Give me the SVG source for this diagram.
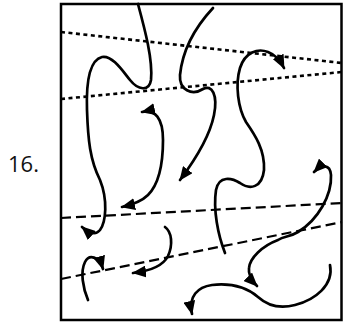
<svg xmlns="http://www.w3.org/2000/svg" width="343" height="324" viewBox="0 0 343 324">
<style>
.frame{fill:none;stroke:#000;stroke-width:2.5}
.dot{fill:none;stroke:#000;stroke-width:2.6;stroke-dasharray:4 3.5}
.dash{fill:none;stroke:#000;stroke-width:2.2;stroke-dasharray:10 5}
.curve{fill:none;stroke:#000;stroke-width:2.7;stroke-linecap:round}
.label{font-family:"Open Sans","Noto Sans",sans-serif;font-size:22px;fill:#111}
</style>
<defs>
<marker id="ah" viewBox="0 0 14 12" refX="13" refY="6" markerWidth="14" markerHeight="12" markerUnits="userSpaceOnUse" orient="auto-start-reverse">
<path d="M0,0 L14,6 L0,12 z" fill="#000"/>
</marker>
</defs>
<rect width="343" height="324" fill="#fff"/>
<g id="label"><text class="label" x="8" y="172">16.</text></g>
<g id="frame"><rect class="frame" x="61" y="4" width="280.5" height="316"/></g>
<g id="lines">
<line class="dot" x1="61" y1="32" x2="342" y2="63"/>
<line class="dot" x1="61" y1="99" x2="342" y2="72"/>
<line class="dash" x1="61" y1="218" x2="342" y2="203"/>
<line class="dash" x1="61" y1="279" x2="342" y2="222"/>
</g>
<g id="connectors">
<path id="curveA" class="curve" marker-end="url(#ah)" d="M138,4 C145,30 153,60 151,80 C149,92 138,90 130,80 C122,70 112,55 102,57 C90,60 86,80 87,110 C88,140 90,160 100,180 C108,200 106,222 100,230 C96,235 90,234 82,227"/>
<path id="curveB" class="curve" marker-end="url(#ah)" d="M213,8 C200,22 183,45 180,75 C179,90 192,96 203,89 C212,84 218,95 214,115 C210,135 195,160 180,180"/>
<path id="curveC" class="curve" marker-start="url(#ah)" marker-end="url(#ah)" d="M142,112 C155,109 163,118 163,140 C163,165 158,185 148,195 C142,201 135,204 122,207"/>
<path id="curveD" class="curve" marker-end="url(#ah)" d="M225,253 C218,235 213,210 216,190 C219,175 232,178 240,183 C250,190 262,188 264,170 C265,150 255,135 246,122 C238,108 235,85 240,68 C245,52 258,48 268,52 C276,55 280,60 284,68"/>
<path id="curveE" class="curve" marker-start="url(#ah)" marker-end="url(#ah)" d="M314,172 C322,164 330,164 331,175 C332,195 318,220 298,232 C290,237 284,236 278,240 C262,246 250,258 249,268 C248,275 251,280 257,286"/>
<path id="curveF" class="curve" marker-end="url(#ah)" d="M330,265 C334,285 315,300 295,305 C280,309 268,306 258,297 C245,286 230,283 212,285 C198,287 188,296 192,314"/>
<path id="curveG" class="curve" marker-end="url(#ah)" d="M88,300 C83,288 80,272 85,262 C89,254 99,256 103,269"/>
<path id="curveH" class="curve" marker-end="url(#ah)" d="M165,227 C172,232 173,245 168,256 C163,266 150,271 133,273"/>
</g>
</svg>
